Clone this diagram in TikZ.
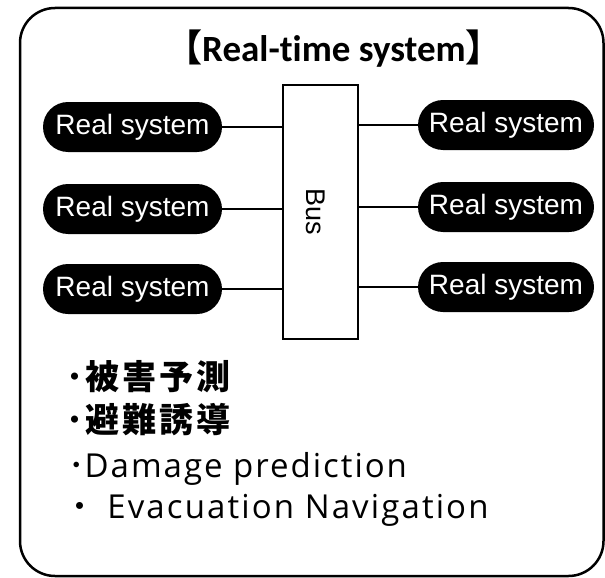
\documentclass[tikz,border=0pt]{standalone}
\usepackage{fontspec}
\setmainfont{Liberation Sans}
\newfontfamily\cjk{Noto Sans CJK JP}
\newfontfamily\cjkspaced{Noto Sans CJK JP}[LetterSpace=8]
\newfontfamily\titlefont{Carlito}[Ligatures=NoCommon]
\newfontfamily\lightfontA{Open Sans}[LetterSpace=6]
\newfontfamily\lightfontB{Open Sans}[LetterSpace=6.4]
\begin{document}
\begin{tikzpicture}[x=1pt,y=-1pt,
  pill/.style={fill=black,text=white,rounded corners=25pt,minimum height=50pt,inner sep=0pt,font=\fontsize{28}{30}\selectfont},
  conn/.style={line width=2pt},
  bullettext/.style={anchor=base west,inner sep=0pt}]
\useasboundingbox (0,0) rectangle (605,578);
\draw[line width=2.5pt,rounded corners=35pt] (20,8) rectangle (603.5,576);
\node[anchor=base west,inner sep=0pt,font=\fontsize{37}{40}\selectfont] (title) at (165,62)
  {{\cjk\bfseries【}{\titlefont\bfseries Real-time system}{\cjk\bfseries】}};
\node[draw,line width=2pt,minimum width=75pt,minimum height=254pt,inner sep=0pt] (bus) at (320.5,212) {};
\node[rotate=-90,inner sep=0pt,font=\fontsize{27}{29}\selectfont] (buslabel) at (315.5,211.5) {Bus};
\node[pill,minimum width=179pt] (L1) at (132.5,127) {Real system};
\node[pill,minimum width=179pt] (L2) at (132.5,209) {Real system};
\node[pill,minimum width=179pt] (L3) at (132.5,289) {Real system};
\node[pill,minimum width=176pt] (R1) at (506,125) {Real system};
\node[pill,minimum width=176pt] (R2) at (506,207) {Real system};
\node[pill,minimum width=176pt] (R3) at (506,287) {Real system};
\foreach \n in {L1,L2,L3} \draw[conn] (\n.east) -- (\n.east -| bus.west);
\foreach \n in {R1,R2,R3} \draw[conn] (\n.west) -- (\n.west -| bus.east);
\node[bullettext,font=\cjkspaced\bfseries\fontsize{34}{36}\selectfont] (t1) at (66,389) {･被害予測};
\node[bullettext,font=\cjkspaced\bfseries\fontsize{34}{36}\selectfont] (t2) at (66,432) {･避難誘導};
\node[bullettext,font=\fontsize{33}{36}\selectfont] (t3) at (68,477) {{\cjk ･}{\lightfontA Damage prediction}};
\node[bullettext,font=\fontsize{33}{36}\selectfont] (t4) at (63.5,518) {{\cjk ・}{\lightfontB\ Evacuation Navigation}};
\end{tikzpicture}
\end{document}
